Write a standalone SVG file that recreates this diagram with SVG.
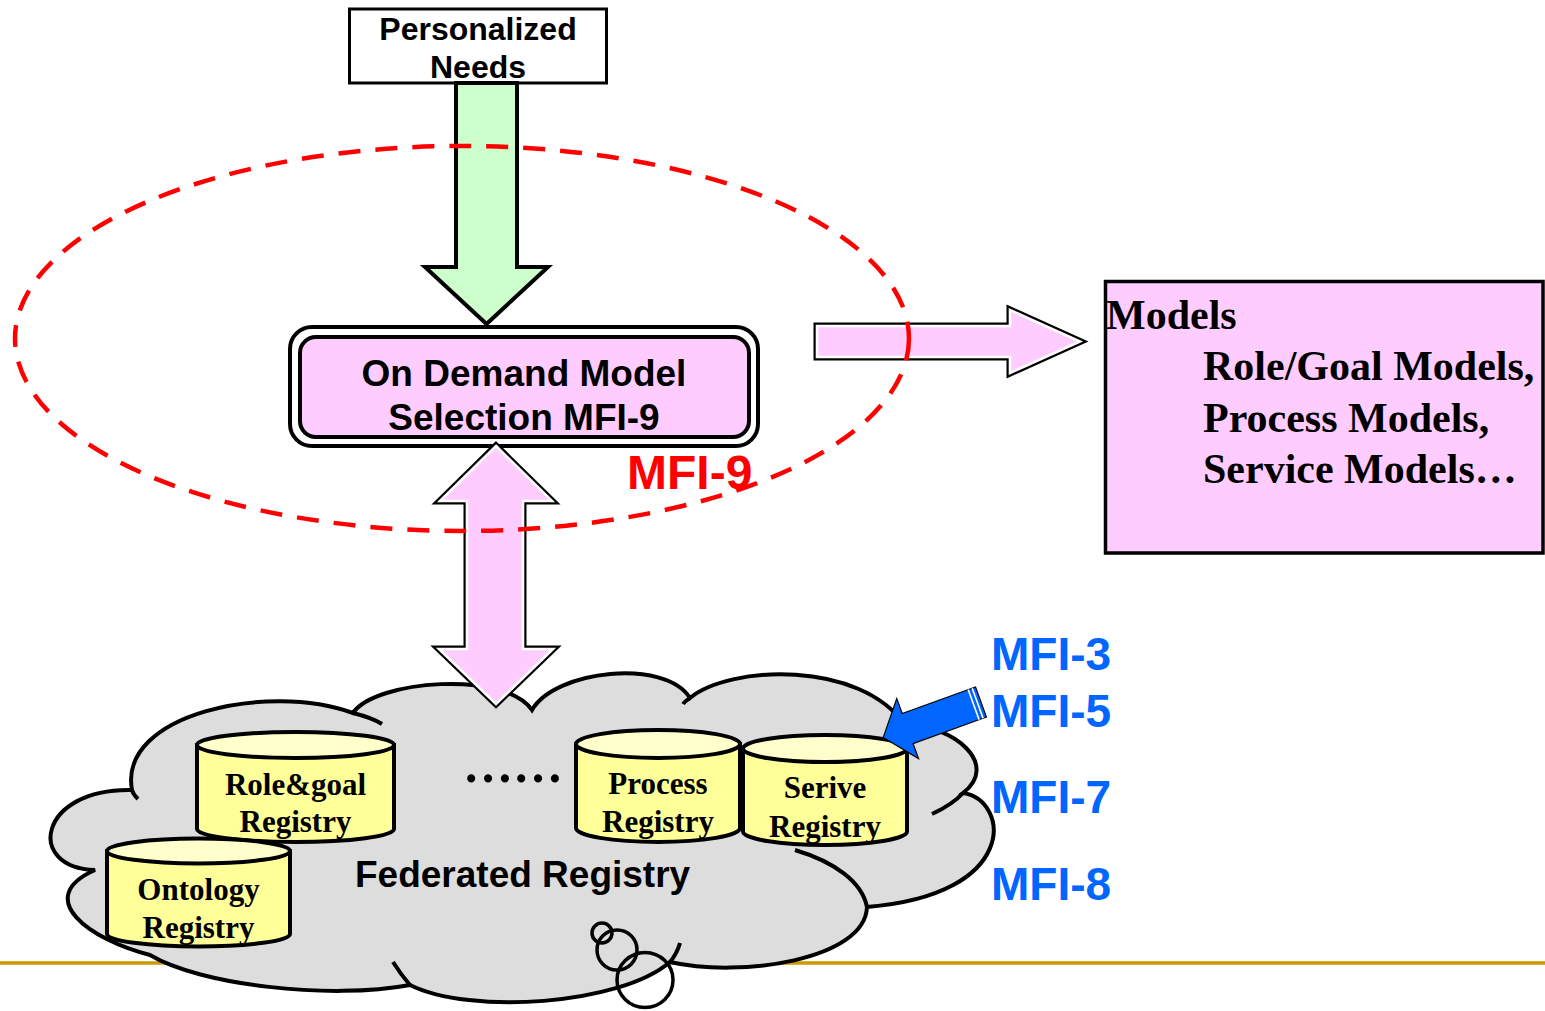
<svg xmlns="http://www.w3.org/2000/svg" width="1545" height="1011" viewBox="0 0 1545 1011">
<style>
.sans{font-family:"Liberation Sans",Arial,sans-serif;font-weight:bold}
.serif{font-family:"Liberation Serif","Times New Roman",serif;font-weight:bold}
.cylbody{fill:#FFFF99;stroke:#000;stroke-width:4}
.cyltop{fill:#FFFFCC;stroke:#000;stroke-width:4}
.cyltxt{font-size:31px;text-anchor:middle}
.mfi{font-size:46px;fill:#0066FF}
.stub{fill:none;stroke:#000;stroke-width:4}
.dbl-out{stroke:#000;stroke-width:7;stroke-linejoin:miter}
.dbl-in{fill:#FFCCFF;stroke:#fff;stroke-width:2.6;stroke-linejoin:miter}
</style>
<rect width="1545" height="1011" fill="#fff"/>
<line x1="0" y1="963" x2="1545" y2="963" stroke="#CC9900" stroke-width="3.5"/>

<g id="federated-registry">
<path d="M132,790 C118,714 268,682 353,713 C375,680 505,670 532,710 C555,670 665,658 690,698 C730,665 860,660 905,725 C955,725 1000,765 963,793 C1010,800 1020,895 867,907 C865,960 740,978 670,962 C620,1005 470,1015 410,985 C330,1000 200,985 150,955 C90,940 32,898 95,870 C25,868 38,788 132,790 Z" fill="#DDDDDD" stroke="#000" stroke-width="4"/>
<path class="stub" d="M132,790 C133,794 135,796 138,799"/>
<path class="stub" d="M353,713 C365,716 374,719 382,724"/>
<path class="stub" d="M690,698 C687,700 685,701 683,704"/>
<path class="stub" d="M963,793 C955,802 945,808 932,814"/>
<path class="stub" d="M795,850 C835,862 862,882 867,907"/>
<path class="stub" d="M670,962 C675,956 678,950 680,943"/>
<path class="stub" d="M410,985 C403,977 398,970 393,962"/>
<ellipse cx="602" cy="933" rx="10" ry="10" fill="none" stroke="#000" stroke-width="3.5"/>
<ellipse cx="617" cy="950" rx="20" ry="20" fill="none" stroke="#000" stroke-width="3.5"/>
<ellipse cx="645" cy="980" rx="28" ry="27.5" fill="none" stroke="#000" stroke-width="3.5"/>
<text class="serif" x="463" y="782" font-size="50">……</text>
<text class="sans" x="355" y="887" font-size="37">Federated Registry</text>
</g>

<g id="role-goal-registry">
<path class="cylbody" d="M197,745 V829 A98.5,13 0 0 0 394,829 V745 Z"/>
<ellipse class="cyltop" cx="295.5" cy="745" rx="98.5" ry="13"/>
<text class="serif cyltxt" x="295.5" y="795">Role&amp;goal</text>
<text class="serif cyltxt" x="295.5" y="832">Registry</text>
</g>

<g id="ontology-registry">
<path class="cylbody" d="M107,851 V934 A91.5,12.5 0 0 0 290,934 V851 Z"/>
<ellipse class="cyltop" cx="198.5" cy="851" rx="91.5" ry="12.5"/>
<text class="serif cyltxt" x="198.5" y="900">Ontology</text>
<text class="serif cyltxt" x="198.5" y="938">Registry</text>
</g>

<g id="process-registry">
<path class="cylbody" d="M576,744 V828 A82,14 0 0 0 740,828 V744 Z"/>
<ellipse class="cyltop" cx="658" cy="744" rx="82" ry="14"/>
<text class="serif cyltxt" x="658" y="794">Process</text>
<text class="serif cyltxt" x="658" y="832">Registry</text>
</g>

<g id="serive-registry">
<path class="cylbody" d="M743,748.5 V831.5 A82,13.5 0 0 0 907,831.5 V748.5 Z"/>
<ellipse class="cyltop" cx="825" cy="748.5" rx="82" ry="13.5"/>
<text class="serif cyltxt" x="825" y="798">Serive</text>
<text class="serif cyltxt" x="825" y="837">Registry</text>
</g>

<g id="personalized-needs">
<rect x="349.5" y="9" width="257" height="74" fill="#fff" stroke="#000" stroke-width="3"/>
<text class="sans" x="478" y="40" font-size="32" text-anchor="middle">Personalized</text>
<text class="sans" x="478" y="78" font-size="32" text-anchor="middle">Needs</text>
</g>

<g id="on-demand-model-selection">
<rect x="290" y="327" width="468" height="119" rx="22" fill="#fff" stroke="#000" stroke-width="4"/>
<rect x="300" y="337" width="449" height="100" rx="16" fill="#FFCCFF" stroke="#000" stroke-width="4"/>
<text class="sans" x="524" y="386" font-size="37" text-anchor="middle">On Demand Model</text>
<text class="sans" x="524" y="430" font-size="37" text-anchor="middle">Selection MFI-9</text>
</g>

<g id="models">
<rect x="1105.5" y="281.5" width="437.5" height="271.5" fill="#FFCCFF" stroke="#000" stroke-width="3.5"/>
<text class="serif" x="1106" y="329" font-size="42">Models</text>
<text class="serif" x="1203" y="380" font-size="42">Role/Goal Models,</text>
<text class="serif" x="1203" y="432" font-size="42">Process Models,</text>
<text class="serif" x="1203" y="483" font-size="42">Service Models…</text>
</g>

<g id="mfi-labels">
<text class="sans mfi" x="991" y="670">MFI-3</text>
<text class="sans mfi" x="991" y="727">MFI-5</text>
<text class="sans mfi" x="991" y="813">MFI-7</text>
<text class="sans mfi" x="991" y="900">MFI-8</text>
</g>

<g id="connectors">
<polygon points="456,83 517,83 517,267 548,267 486.5,324 425,267 456,267" fill="#CCFFCC" stroke="#000" stroke-width="4" stroke-linejoin="miter"/>
<polygon class="dbl-out" points="496,446 552,501 523,501 523,649 553,649 496,704 439,649 467,649 467,501 440,501"/>
<polygon class="dbl-in" points="496,446 552,501 523,501 523,649 553,649 496,704 439,649 467,649 467,501 440,501"/>
<polygon class="dbl-out" points="817,326 1010,326 1010,310 1080,341.5 1010,373 1010,357 817,357"/>
<polygon class="dbl-in" points="817,326 1010,326 1010,310 1080,341.5 1010,373 1010,357 817,357"/>
<g transform="translate(981,702) rotate(160.1)">
<polygon points="0,-16 78,-16 78,-32 104,0 78,32 78,16 0,16" fill="#0066FF" stroke="#000" stroke-width="1.2"/>
<line x1="3.6" y1="-16" x2="3.6" y2="16" stroke="#fff" stroke-width="1.6"/>
<line x1="7.8" y1="-16" x2="7.8" y2="16" stroke="#fff" stroke-width="1.6"/>
</g>
</g>

<g id="mfi-9-scope">
<text class="sans" x="627" y="489" font-size="48" fill="#FF0000">MFI-9</text>
<ellipse cx="462" cy="338.5" rx="447" ry="192.5" fill="none" stroke="#FF0000" stroke-width="4.5" stroke-dasharray="22 15"/>
</g>
</svg>
